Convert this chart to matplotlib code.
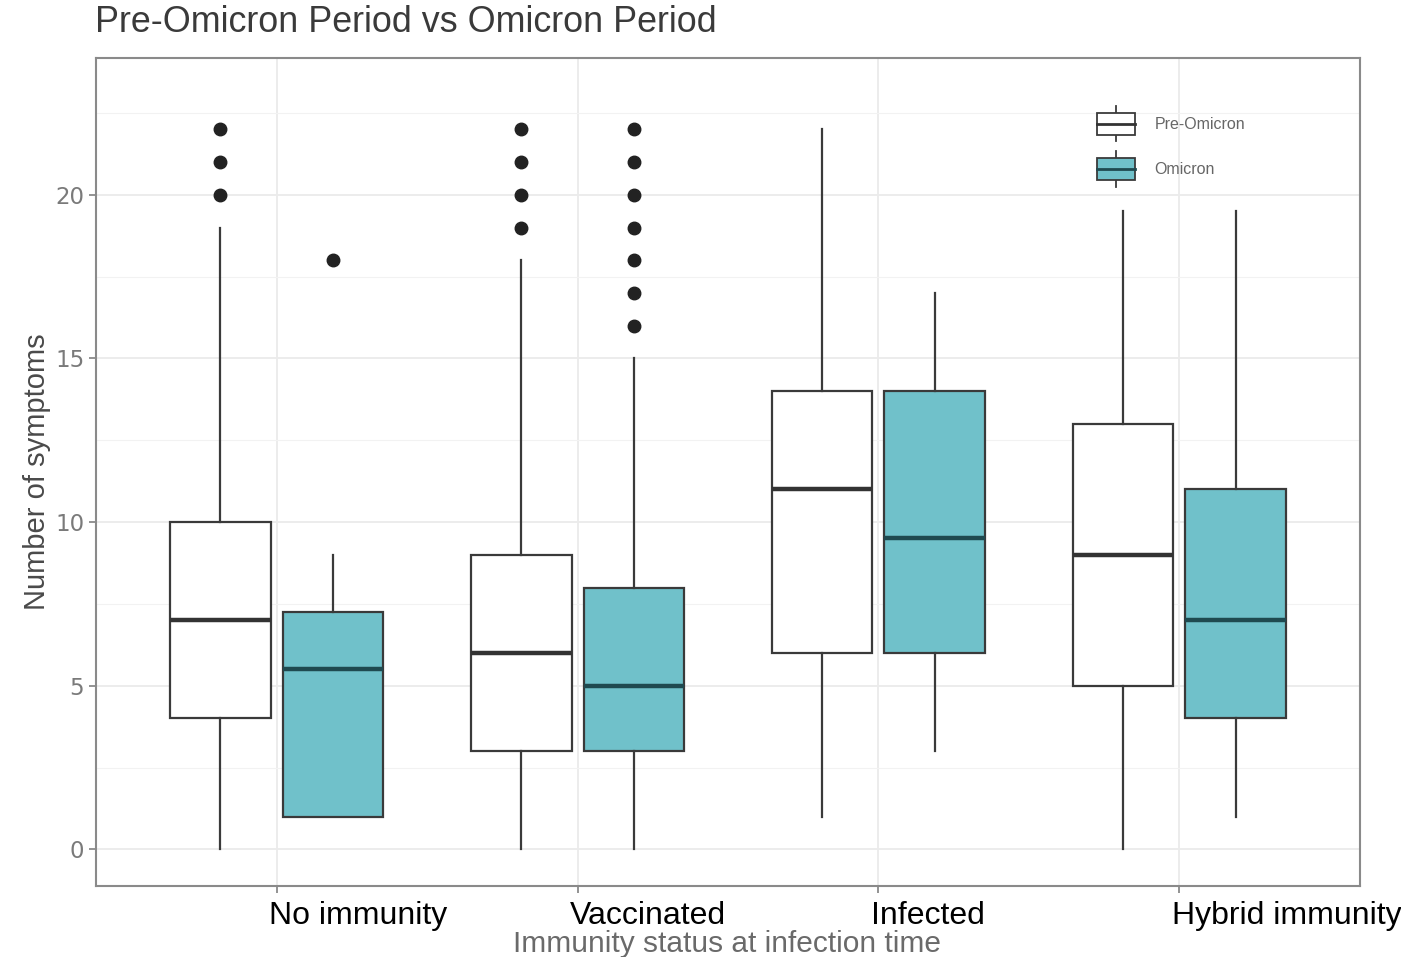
import matplotlib
matplotlib.use("Agg")
import matplotlib.pyplot as plt
from matplotlib.patches import Rectangle
from matplotlib.lines import Line2D
from matplotlib.legend_handler import HandlerBase
from matplotlib.transforms import blended_transform_factory

# box summaries (number of symptoms)
groups = ["No immunity", "Vaccinated", "Infected", "Hybrid immunity"]

pre_lo = [0, 0, 1, 0]
pre_q1 = [4, 3, 6, 5]
pre_med = [7, 6, 11, 9]
pre_q3 = [10, 9, 14, 13]
pre_hi = [19, 18, 22, 19.5]
pre_out = [[20, 21, 22], [19, 20, 21, 22], [], []]

omi_lo = [1, 0, 3, 1]
omi_q1 = [1, 3, 6, 4]
omi_med = [5.5, 5, 9.5, 7]
omi_q3 = [7.25, 8, 14, 11]
omi_hi = [9, 15, 17, 19.5]
omi_out = [[18], [16, 17, 18, 19, 20, 21, 22], [], []]

series_names = ["Pre-Omicron", "Omicron"]
TEAL = "#70c1ca"
EDGE = "#3a3a3a"


def make_stats(lo, q1, med, q3, hi, out):
    stats = []
    for i in range(len(lo)):
        stats.append(dict(whislo=lo[i], q1=q1[i], med=med[i], q3=q3[i],
                          whishi=hi[i], fliers=out[i]))
    return stats


'''
    legend key drawn like a small boxplot (box, median, whiskers)
'''
class BoxKey(HandlerBase):
    def create_artists(self, legend, orig_handle, xdescent, ydescent,
                       width, height, fontsize, trans):
        x0, y0 = -xdescent, -ydescent
        face = orig_handle.get_facecolor()
        med_col = orig_handle.get_label()
        rect = Rectangle((x0, y0), width, height, facecolor=face,
                         edgecolor=EDGE, lw=1.3, transform=trans)
        cx = x0 + width / 2
        wl = Line2D([cx, cx], [y0 - 0.3 * height, y0], color=EDGE, lw=1.3, transform=trans)
        wh = Line2D([cx, cx], [y0 + height, y0 + 1.3 * height], color=EDGE, lw=1.3, transform=trans)
        md = Line2D([x0, x0 + width], [y0 + height / 2] * 2, color=med_col, lw=2,
                    transform=trans)
        return [wl, wh, rect, md]


fig = plt.figure(figsize=(14.01, 9.57), dpi=100)
ax = fig.add_axes([96 / 1401, 1 - 886 / 957, (1360 - 96) / 1401, (886 - 58) / 957])

xs = list(range(1, len(groups) + 1))
off = 0.1875
bw = 0.335

flier = dict(marker="o", markersize=9, markerfacecolor="#222222",
             markeredgecolor="#222222", linestyle="none")

ax.bxp(make_stats(pre_lo, pre_q1, pre_med, pre_q3, pre_hi, pre_out),
       positions=[x - off for x in xs], widths=bw, patch_artist=True,
       showcaps=False, flierprops=flier,
       boxprops=dict(facecolor="white", edgecolor=EDGE, lw=1.6),
       whiskerprops=dict(color=EDGE, lw=1.6),
       medianprops=dict(color="#333333", lw=3.2, solid_capstyle="butt"),
       zorder=3)
ax.bxp(make_stats(omi_lo, omi_q1, omi_med, omi_q3, omi_hi, omi_out),
       positions=[x + off for x in xs], widths=bw, patch_artist=True,
       showcaps=False, flierprops=flier,
       boxprops=dict(facecolor=TEAL, edgecolor=EDGE, lw=1.6),
       whiskerprops=dict(color=EDGE, lw=1.6),
       medianprops=dict(color="#1f4a50", lw=3.2, solid_capstyle="butt"),
       zorder=3)

ax.set_xlim(0.4, 4.6)
ax.set_ylim(-1.12, 24.18)
ax.set_xticks(xs)
ax.set_xticklabels([""] * len(xs))
ax.set_yticks([0, 5, 10, 15, 20])
ax.set_yticks([2.5, 7.5, 12.5, 17.5, 22.5], minor=True)
ax.grid(which="major", color="#ebebeb", lw=1.3, zorder=0)
ax.grid(which="minor", axis="y", color="#f2f2f2", lw=0.8, zorder=0)
ax.set_axisbelow(True)
ax.tick_params(axis="both", which="major", length=5, width=1.2, color="#808080",
               labelsize=16.5, labelcolor="#7a7a7a", pad=3.5)
ax.tick_params(axis="y", which="minor", length=0)
for sp in ax.spines.values():
    sp.set_color("#8a8a8a")
    sp.set_linewidth(1.5)

# category names laid over the empty tick labels
tr = blended_transform_factory(ax.transData, fig.transFigure)
for x, name in zip(xs, groups):
    ax.text(x - 0.025, 1 - 924 / 957, name, transform=tr, ha="left", va="baseline",
            fontsize=23, color="black", family="Liberation Sans")

fig.text(95 / 1401, 1 - 22 / 957, "Pre-Omicron Period vs Omicron Period",
         ha="left", va="center", fontsize=25.8, color="#3a3a3a", family="Liberation Sans")
fig.text(37 / 1401, 1 - 472 / 957, "Number of symptoms", rotation=90,
         ha="center", va="center", fontsize=21, color="#4a4a4a", family="Liberation Sans")
fig.text(727 / 1401, 1 - 952 / 957, "Immunity status at infection time",
         ha="center", va="baseline", fontsize=21.5, color="#6a6a6a", family="Liberation Sans")

h1 = Rectangle((0, 0), 1, 1, facecolor="white", label="#333333")
h2 = Rectangle((0, 0), 1, 1, facecolor=TEAL, label="#1f4a50")
leg = ax.legend([h1, h2], series_names, handler_map={Rectangle: BoxKey()},
                loc="upper left", bbox_to_anchor=(0.792, 0.934), frameon=False,
                borderpad=0, borderaxespad=0, handlelength=2.4, handleheight=1.75,
                handletextpad=1.2, labelspacing=1.45,
                prop=dict(family="Liberation Sans", size=11.5))
for t in leg.get_texts():
    t.set_color("#666666")

fig.savefig("out.png", dpi=100)
